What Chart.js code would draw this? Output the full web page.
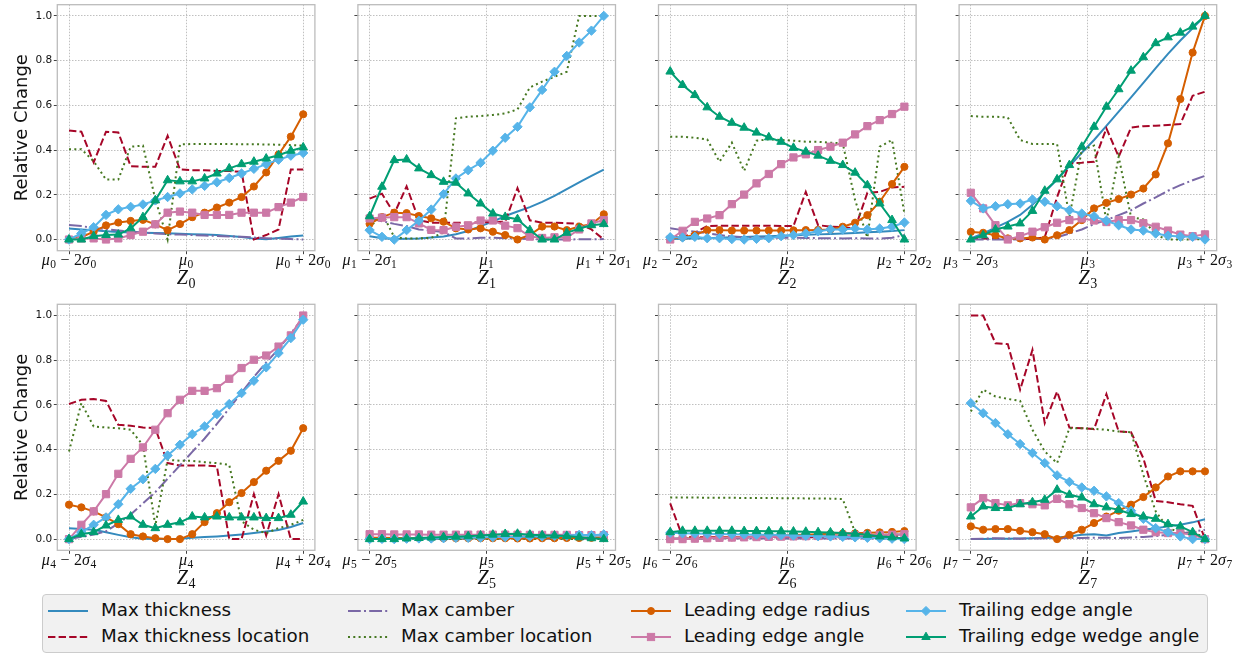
<!DOCTYPE html>
<html>
<head>
<meta charset="utf-8">
<title>Relative change of airfoil features along each latent dimension</title>
<script src="https://cdn.jsdelivr.net/npm/chart.js@4.4.1/dist/chart.umd.min.js"></script>
<style>
  html, body { margin: 0; padding: 0; background: #fff; }
  #page { position: relative; width: 1246px; height: 656px; overflow: hidden; background: #fff; }
  #page canvas { position: absolute; }
  #legend { position: absolute; left: 42px; top: 594px; width: 1166px; height: 59px; box-sizing: border-box;
            background: #f1f1f1; border: 1px solid #cccccc; border-radius: 4px; z-index: 5; }
  .lg-sample { position: absolute; }
  .lg-text { position: absolute; font-family: 'DejaVu Sans', sans-serif; font-size: 18.3px; line-height: 22px;
             color: #111; white-space: nowrap; }
</style>
</head>
<body>
<div id="page"><div id="legend"></div></div>
<script>
// Sample positions along each latent dimension, in units of sigma around the mean
const xGrid = [-2.000, -1.789, -1.579, -1.368, -1.158, -0.947, -0.737, -0.526, -0.316, -0.105,
                0.105, 0.316, 0.526, 0.737, 0.947, 1.158, 1.368, 1.579, 1.789, 2.000];
const xTickValues = [-2, 0, 2];
const yTickValues = [0, 0.2, 0.4, 0.6, 0.8, 1.0];
const yTickLabels = ['0.0', '0.2', '0.4', '0.6', '0.8', '1.0'];
const latentCount = 8;

// One row per latent dimension Z0..Z7
const maxThickness = [
  [0.049, 0.045, 0.041, 0.037, 0.034, 0.031, 0.030, 0.029, 0.028, 0.026, 0.024, 0.022, 0.020, 0.016, 0.011, 0.004, 0.001, 0.007, 0.013, 0.018],
  [0.015, 0.006, 0.002, 0.003, 0.005, 0.009, 0.014, 0.024, 0.038, 0.060, 0.080, 0.105, 0.125, 0.145, 0.168, 0.195, 0.225, 0.256, 0.285, 0.313],
  [0.002, 0.003, 0.004, 0.006, 0.008, 0.010, 0.011, 0.013, 0.015, 0.017, 0.019, 0.021, 0.023, 0.025, 0.027, 0.029, 0.032, 0.035, 0.038, 0.042],
  [0.005, 0.027, 0.053, 0.079, 0.110, 0.155, 0.212, 0.268, 0.328, 0.388, 0.445, 0.508, 0.572, 0.636, 0.700, 0.766, 0.830, 0.890, 0.945, 1.000],
  [0.049, 0.045, 0.042, 0.031, 0.019, 0.008, 0.002, 0.001, 0.001, 0.002, 0.006, 0.009, 0.012, 0.016, 0.021, 0.027, 0.034, 0.041, 0.054, 0.072],
  [0.002, 0.002, 0.002, 0.003, 0.003, 0.003, 0.004, 0.004, 0.004, 0.004, 0.005, 0.005, 0.005, 0.005, 0.006, 0.006, 0.006, 0.006, 0.007, 0.007],
  [0.001, 0.002, 0.002, 0.004, 0.005, 0.005, 0.007, 0.008, 0.009, 0.009, 0.011, 0.012, 0.012, 0.014, 0.015, 0.016, 0.016, 0.018, 0.019, 0.021],
  [0.000, 0.001, 0.002, 0.002, 0.003, 0.004, 0.005, 0.007, 0.012, 0.019, 0.022, 0.016, 0.027, 0.034, 0.042, 0.049, 0.057, 0.064, 0.075, 0.089]
];
const maxThicknessLocation = [
  [0.487, 0.482, 0.345, 0.482, 0.479, 0.328, 0.325, 0.325, 0.464, 0.313, 0.310, 0.310, 0.306, 0.306, 0.303, 0.000, 0.020, 0.045, 0.313, 0.313],
  [0.183, 0.205, 0.115, 0.238, 0.086, 0.075, 0.075, 0.075, 0.075, 0.077, 0.078, 0.080, 0.230, 0.086, 0.075, 0.075, 0.073, 0.070, 0.045, 0.000],
  [0.010, 0.012, 0.030, 0.060, 0.062, 0.062, 0.062, 0.062, 0.062, 0.060, 0.060, 0.213, 0.064, 0.058, 0.055, 0.050, 0.209, 0.213, 0.233, 0.236],
  [0.005, 0.004, 0.003, 0.003, 0.002, 0.002, 0.010, 0.190, 0.340, 0.343, 0.348, 0.497, 0.370, 0.501, 0.507, 0.509, 0.512, 0.516, 0.643, 0.661],
  [0.604, 0.623, 0.627, 0.618, 0.511, 0.507, 0.499, 0.496, 0.340, 0.329, 0.329, 0.329, 0.325, 0.000, 0.000, 0.201, 0.016, 0.201, 0.000, 0.000],
  [0.005, 0.005, 0.005, 0.005, 0.005, 0.005, 0.005, 0.005, 0.005, 0.005, 0.005, 0.005, 0.005, 0.005, 0.005, 0.005, 0.005, 0.005, 0.005, 0.005],
  [0.160, 0.010, 0.008, 0.008, 0.008, 0.008, 0.008, 0.008, 0.008, 0.008, 0.008, 0.008, 0.008, 0.008, 0.008, 0.008, 0.008, 0.008, 0.008, 0.008],
  [1.000, 1.000, 0.876, 0.872, 0.668, 0.846, 0.519, 0.660, 0.499, 0.496, 0.492, 0.648, 0.481, 0.478, 0.362, 0.171, 0.165, 0.156, 0.149, 0.000]
];
const maxCamber = [
  [0.065, 0.060, 0.052, 0.046, 0.040, 0.035, 0.031, 0.027, 0.024, 0.022, 0.020, 0.018, 0.016, 0.014, 0.012, 0.009, 0.006, 0.004, 0.002, 0.000],
  [0.095, 0.082, 0.070, 0.060, 0.045, 0.040, 0.034, 0.005, 0.005, 0.008, 0.008, 0.006, 0.005, 0.002, 0.000, 0.000, 0.000, 0.001, 0.001, 0.002],
  [0.050, 0.042, 0.035, 0.028, 0.020, 0.014, 0.010, 0.008, 0.008, 0.008, 0.008, 0.007, 0.006, 0.006, 0.005, 0.006, 0.005, 0.004, 0.008, 0.020],
  [0.000, 0.000, 0.000, 0.000, 0.001, 0.002, 0.003, 0.010, 0.027, 0.045, 0.069, 0.087, 0.109, 0.131, 0.161, 0.188, 0.218, 0.243, 0.265, 0.285],
  [0.000, 0.010, 0.020, 0.035, 0.070, 0.110, 0.160, 0.210, 0.270, 0.330, 0.390, 0.450, 0.515, 0.585, 0.655, 0.725, 0.790, 0.850, 0.920, 0.990],
  [0.002, 0.002, 0.002, 0.002, 0.002, 0.002, 0.002, 0.002, 0.002, 0.002, 0.002, 0.002, 0.002, 0.002, 0.002, 0.002, 0.002, 0.002, 0.002, 0.002],
  [0.003, 0.003, 0.003, 0.003, 0.003, 0.003, 0.003, 0.003, 0.003, 0.003, 0.003, 0.003, 0.003, 0.003, 0.003, 0.003, 0.003, 0.003, 0.003, 0.003],
  [0.000, 0.002, 0.004, 0.003, 0.002, 0.003, 0.004, 0.004, 0.005, 0.005, 0.006, 0.006, 0.005, 0.007, 0.010, 0.014, 0.019, 0.025, 0.033, 0.042]
];
const maxCamberLocation = [
  [0.404, 0.404, 0.350, 0.268, 0.268, 0.415, 0.420, 0.180, 0.000, 0.425, 0.427, 0.427, 0.427, 0.427, 0.426, 0.426, 0.425, 0.424, 0.422, 0.420],
  [0.050, 0.120, 0.010, 0.005, 0.005, 0.008, 0.030, 0.542, 0.549, 0.552, 0.557, 0.564, 0.582, 0.680, 0.706, 0.728, 0.750, 1.000, 1.000, 1.000],
  [0.460, 0.460, 0.455, 0.448, 0.348, 0.433, 0.307, 0.442, 0.448, 0.445, 0.442, 0.437, 0.437, 0.433, 0.430, 0.176, 0.009, 0.415, 0.445, 0.116],
  [0.552, 0.549, 0.549, 0.546, 0.445, 0.427, 0.427, 0.427, 0.100, 0.400, 0.420, 0.080, 0.370, 0.100, 0.090, 0.020, 0.000, 0.000, 0.000, 0.002],
  [0.392, 0.608, 0.504, 0.499, 0.496, 0.489, 0.420, 0.060, 0.355, 0.350, 0.350, 0.344, 0.340, 0.332, 0.080, 0.042, 0.027, 0.049, 0.064, 0.086],
  [0.000, 0.000, 0.000, 0.000, 0.000, 0.000, 0.000, 0.000, 0.000, 0.000, 0.000, 0.000, 0.000, 0.000, 0.000, 0.000, 0.000, 0.000, 0.000, 0.000],
  [0.186, 0.186, 0.186, 0.185, 0.185, 0.185, 0.184, 0.184, 0.184, 0.183, 0.183, 0.182, 0.182, 0.181, 0.179, 0.030, 0.020, 0.020, 0.020, 0.020],
  [0.571, 0.668, 0.638, 0.627, 0.618, 0.489, 0.392, 0.340, 0.496, 0.496, 0.493, 0.489, 0.481, 0.478, 0.288, 0.124, 0.049, 0.031, 0.027, 0.012]
];
const leadingEdgeRadius = [
  [0.000, 0.010, 0.035, 0.063, 0.076, 0.083, 0.088, 0.068, 0.042, 0.069, 0.100, 0.120, 0.143, 0.165, 0.190, 0.237, 0.300, 0.380, 0.460, 0.560],
  [0.070, 0.100, 0.120, 0.118, 0.105, 0.095, 0.080, 0.050, 0.045, 0.050, 0.035, 0.020, 0.000, 0.020, 0.058, 0.058, 0.042, 0.058, 0.068, 0.113],
  [0.005, 0.010, 0.020, 0.042, 0.042, 0.040, 0.040, 0.040, 0.040, 0.040, 0.041, 0.042, 0.043, 0.045, 0.057, 0.075, 0.109, 0.169, 0.248, 0.325],
  [0.034, 0.030, 0.019, 0.005, 0.005, 0.009, 0.000, 0.019, 0.042, 0.087, 0.139, 0.164, 0.181, 0.201, 0.228, 0.291, 0.430, 0.628, 0.836, 1.000],
  [0.154, 0.142, 0.124, 0.097, 0.067, 0.022, 0.012, 0.004, 0.000, 0.000, 0.022, 0.076, 0.116, 0.165, 0.206, 0.255, 0.306, 0.350, 0.395, 0.496],
  [0.006, 0.006, 0.005, 0.005, 0.005, 0.005, 0.004, 0.004, 0.004, 0.004, 0.004, 0.004, 0.003, 0.003, 0.004, 0.004, 0.005, 0.005, 0.006, 0.006],
  [0.000, 0.002, 0.004, 0.005, 0.007, 0.008, 0.010, 0.012, 0.014, 0.016, 0.018, 0.020, 0.022, 0.024, 0.025, 0.026, 0.028, 0.030, 0.032, 0.036],
  [0.057, 0.042, 0.045, 0.045, 0.037, 0.031, 0.022, 0.000, 0.019, 0.042, 0.072, 0.101, 0.127, 0.154, 0.188, 0.231, 0.280, 0.303, 0.303, 0.303]
];
const leadingEdgeAngle = [
  [0.000, 0.005, 0.005, 0.000, 0.005, 0.020, 0.035, 0.068, 0.120, 0.125, 0.120, 0.110, 0.110, 0.110, 0.120, 0.120, 0.120, 0.145, 0.165, 0.190],
  [0.094, 0.098, 0.100, 0.100, 0.072, 0.043, 0.042, 0.057, 0.063, 0.085, 0.085, 0.062, 0.051, 0.013, 0.007, 0.010, 0.009, 0.045, 0.072, 0.087],
  [0.000, 0.039, 0.079, 0.094, 0.109, 0.158, 0.201, 0.251, 0.293, 0.337, 0.367, 0.381, 0.400, 0.415, 0.433, 0.470, 0.507, 0.534, 0.561, 0.594],
  [0.209, 0.139, 0.064, 0.000, 0.015, 0.035, 0.055, 0.075, 0.087, 0.094, 0.085, 0.078, 0.087, 0.087, 0.073, 0.057, 0.040, 0.022, 0.015, 0.023],
  [0.000, 0.064, 0.124, 0.201, 0.292, 0.359, 0.410, 0.489, 0.563, 0.623, 0.663, 0.663, 0.675, 0.717, 0.765, 0.802, 0.821, 0.861, 0.911, 1.000],
  [0.022, 0.022, 0.021, 0.021, 0.021, 0.020, 0.020, 0.020, 0.020, 0.020, 0.020, 0.020, 0.020, 0.019, 0.019, 0.019, 0.019, 0.018, 0.018, 0.018],
  [0.000, 0.000, 0.002, 0.004, 0.006, 0.007, 0.008, 0.009, 0.010, 0.011, 0.012, 0.013, 0.014, 0.015, 0.016, 0.017, 0.018, 0.019, 0.020, 0.022],
  [0.142, 0.183, 0.161, 0.151, 0.161, 0.156, 0.151, 0.180, 0.156, 0.139, 0.116, 0.094, 0.076, 0.061, 0.042, 0.031, 0.027, 0.027, 0.019, 0.000]
];
const trailingEdgeAngle = [
  [0.000, 0.027, 0.055, 0.110, 0.135, 0.146, 0.157, 0.175, 0.190, 0.206, 0.224, 0.240, 0.256, 0.275, 0.295, 0.316, 0.337, 0.357, 0.375, 0.387],
  [0.042, 0.012, 0.000, 0.042, 0.084, 0.134, 0.203, 0.273, 0.310, 0.343, 0.397, 0.455, 0.504, 0.591, 0.669, 0.750, 0.821, 0.881, 0.934, 1.000],
  [0.010, 0.009, 0.012, 0.006, 0.006, 0.002, 0.000, 0.003, 0.006, 0.015, 0.020, 0.027, 0.037, 0.045, 0.045, 0.049, 0.045, 0.049, 0.057, 0.076],
  [0.173, 0.139, 0.149, 0.158, 0.161, 0.179, 0.169, 0.149, 0.131, 0.116, 0.104, 0.084, 0.064, 0.045, 0.040, 0.027, 0.017, 0.013, 0.012, 0.000],
  [0.000, 0.031, 0.064, 0.097, 0.156, 0.225, 0.268, 0.314, 0.374, 0.422, 0.469, 0.504, 0.559, 0.604, 0.653, 0.708, 0.768, 0.832, 0.899, 0.981],
  [0.000, 0.001, 0.000, 0.002, 0.003, 0.003, 0.004, 0.006, 0.006, 0.007, 0.009, 0.009, 0.010, 0.012, 0.012, 0.014, 0.015, 0.019, 0.017, 0.021],
  [0.028, 0.026, 0.025, 0.024, 0.023, 0.022, 0.021, 0.020, 0.019, 0.018, 0.016, 0.015, 0.013, 0.012, 0.010, 0.008, 0.006, 0.004, 0.002, 0.000],
  [0.608, 0.563, 0.519, 0.469, 0.425, 0.385, 0.340, 0.285, 0.256, 0.231, 0.216, 0.191, 0.161, 0.127, 0.091, 0.049, 0.031, 0.012, 0.000, 0.000]
];
const trailingEdgeWedgeAngle = [
  [0.000, 0.000, 0.015, 0.020, 0.022, 0.050, 0.100, 0.175, 0.265, 0.260, 0.260, 0.273, 0.295, 0.318, 0.337, 0.348, 0.362, 0.377, 0.397, 0.412],
  [0.104, 0.236, 0.355, 0.358, 0.318, 0.288, 0.258, 0.254, 0.206, 0.161, 0.116, 0.101, 0.091, 0.042, 0.000, 0.000, 0.030, 0.049, 0.064, 0.069],
  [0.751, 0.691, 0.646, 0.591, 0.549, 0.522, 0.500, 0.478, 0.457, 0.437, 0.410, 0.393, 0.375, 0.352, 0.333, 0.299, 0.243, 0.161, 0.087, 0.000],
  [0.000, 0.019, 0.045, 0.058, 0.072, 0.128, 0.218, 0.269, 0.333, 0.415, 0.504, 0.594, 0.672, 0.755, 0.815, 0.878, 0.904, 0.925, 0.952, 1.000],
  [0.000, 0.022, 0.031, 0.061, 0.086, 0.101, 0.064, 0.049, 0.064, 0.075, 0.101, 0.097, 0.101, 0.097, 0.097, 0.097, 0.094, 0.094, 0.109, 0.168],
  [0.000, 0.000, 0.000, 0.003, 0.005, 0.007, 0.009, 0.011, 0.013, 0.016, 0.020, 0.023, 0.024, 0.020, 0.017, 0.016, 0.014, 0.008, 0.004, 0.000],
  [0.031, 0.037, 0.037, 0.037, 0.037, 0.037, 0.036, 0.036, 0.035, 0.035, 0.034, 0.033, 0.031, 0.030, 0.027, 0.024, 0.019, 0.012, 0.008, 0.003],
  [0.101, 0.146, 0.139, 0.139, 0.156, 0.165, 0.176, 0.221, 0.198, 0.186, 0.156, 0.142, 0.131, 0.112, 0.101, 0.091, 0.067, 0.057, 0.031, 0.000]
];

// Line and marker styling for each feature (matplotlib "bmh" palette)
const series = [
  { name: 'Max thickness',             values: maxThickness,           color: '#348ABD', dash: [] },
  { name: 'Max thickness location',    values: maxThicknessLocation,   color: '#A60628', dash: [7.4, 3.2] },
  { name: 'Max camber',                values: maxCamber,              color: '#7A68A6', dash: [12.8, 3.2, 2, 3.2] },
  { name: 'Max camber location',       values: maxCamberLocation,      color: '#467821', dash: [2, 3.3] },
  { name: 'Leading edge radius',       values: leadingEdgeRadius,      color: '#D55E00', dash: [], marker: 'circle',   radius: 3.6 },
  { name: 'Leading edge angle',        values: leadingEdgeAngle,       color: '#CC79A7', dash: [], marker: 'rect',     radius: 5.1 },
  { name: 'Trailing edge angle',       values: trailingEdgeAngle,      color: '#56B4E9', dash: [], marker: 'rectRot',  radius: 4.7 },
  { name: 'Trailing edge wedge angle', values: trailingEdgeWedgeAngle, color: '#009E73', dash: [], marker: 'triangle', radius: 5.0 }
];

// Panel geometry (page pixels)
const FRAME_LEFT = [57.3, 357.9, 658.5, 959.1];
const FRAME_TOP = [4.7, 304.3];
const FRAME_W = 257.6, FRAME_H = 246;
const TICK = 3.5;
const CANVAS_W = 362, CANVAS_H = 300;
const GRID_COLOR = '#b0b0b0';
const TEXT_COLOR = '#111111';

const page = document.getElementById('page');

function drawRuns(ctx, runs, cx, baseline) {
  let total = 0;
  for (const r of runs) {
    ctx.font = r.f;
    r.w = ctx.measureText(r.t).width;
    total += (r.pl || 0) + r.w + (r.pr || 0);
  }
  let x = cx - total / 2;
  for (const r of runs) {
    x += r.pl || 0;
    ctx.font = r.f;
    ctx.fillText(r.t, x, baseline + (r.dy || 0));
    x += r.w + (r.pr || 0);
  }
}

const MATH_IT = 'italic 16px "Liberation Serif"';
const MATH_UP = '16px "Liberation Serif"';
const MATH_SUB = '11.5px "Liberation Serif"';

function tickRuns(k, kind) {
  const s = String(k);
  const mu = [{ t: 'μ', f: MATH_IT }, { t: s, f: MATH_SUB, dy: 3, pl: 0.5 }];
  if (kind === 0) return mu;
  const op = kind < 0 ? '−' : '+';
  return mu.concat([
    { t: op, f: MATH_UP, pl: 4.5, pr: 4.5 },
    { t: '2', f: MATH_UP },
    { t: 'σ', f: MATH_IT },
    { t: s, f: MATH_SUB, dy: 3, pl: 0.5 }
  ]);
}

function makePanel(k) {
  const col = k % 4, row = Math.floor(k / 4);
  const fl = FRAME_LEFT[col], ft = FRAME_TOP[row];
  const cl = Math.floor(fl) - 57, ct = Math.floor(ft) - 4;
  const yAxisWidth = fl - cl - 1;
  const canvas = document.createElement('canvas');
  canvas.width = CANVAS_W; canvas.height = CANVAS_H;
  canvas.style.left = cl + 'px'; canvas.style.top = ct + 'px';
  canvas.style.width = CANVAS_W + 'px'; canvas.style.height = CANVAS_H + 'px';
  page.appendChild(canvas);

  const panelDecor = {
    id: 'panelDecor',
    afterDatasetsDraw(chart) {
      const a = chart.chartArea, ctx = chart.ctx;
      ctx.save();
      ctx.strokeStyle = '#bcbcbc';
      ctx.lineWidth = 1.3;
      ctx.strokeRect(a.left, a.top, a.right - a.left, a.bottom - a.top);
      ctx.restore();
    },
    afterDraw(chart) {
      const a = chart.chartArea, ctx = chart.ctx, xs = chart.scales.x;
      ctx.save();
      ctx.fillStyle = TEXT_COLOR;
      ctx.textAlign = 'left';
      ctx.textBaseline = 'alphabetic';
      xTickValues.forEach(v => {
        drawRuns(ctx, tickRuns(k, Math.sign(v)), xs.getPixelForValue(v), a.bottom + 14.5);
      });
      drawRuns(ctx, [{ t: 'Z', f: 'italic 20px "Liberation Serif"' }, { t: String(k), f: '14px "Liberation Serif"', dy: 4, pl: 0.5 }],
               (a.left + a.right) / 2, a.bottom + 33.5);
      if (col === 0) {
        ctx.translate(26.5 - cl, (a.top + a.bottom) / 2);
        ctx.rotate(-Math.PI / 2);
        ctx.textAlign = 'center';
        ctx.font = '18px "DejaVu Sans"';
        ctx.fillText('Relative Change', 0, 0);
      }
      ctx.restore();
    }
  };

  const gridOpts = { color: GRID_COLOR, lineWidth: 0.8, tickLength: TICK, tickColor: '#444', tickWidth: 1, tickBorderDash: [] };
  const clearPadding = (s) => { s.paddingLeft = 0; s.paddingRight = 0; s.paddingTop = 0; s.paddingBottom = 0; };

  new Chart(canvas, {
    type: 'line',
    data: {
      datasets: series.map((s, j) => ({
        label: s.name,
        data: xGrid.map((x, i) => ({ x: x, y: s.values[k][i] })),
        borderColor: s.color,
        backgroundColor: s.color,
        borderWidth: 2,
        borderDash: s.dash,
        pointStyle: s.marker || 'circle',
        pointRadius: s.marker ? s.radius : 0,
        pointBorderWidth: 1,
        pointBorderColor: s.color,
        pointBackgroundColor: s.color,
        tension: 0,
        fill: false,
        order: series.length - 1 - j
      }))
    },
    options: {
      responsive: false,
      animation: false,
      devicePixelRatio: 1,
      events: [],
      layout: {
        autoPadding: false,
        padding: {
          left: 1,
          top: ft - ct,
          right: CANVAS_W - (fl - cl) - FRAME_W,
          bottom: CANVAS_H - (ft - ct) - FRAME_H - TICK
        }
      },
      plugins: { legend: { display: false }, tooltip: { enabled: false } },
      scales: {
        x: {
          type: 'linear', min: -2.2, max: 2.2,
          afterBuildTicks: s => { s.ticks = xTickValues.map(v => ({ value: v })); },
          afterFit: s => { s.height = TICK; clearPadding(s); },
          ticks: { display: false },
          grid: gridOpts,
          border: { display: false, dash: [1.5, 1.5] }
        },
        y: {
          type: 'linear', min: -0.05, max: 1.05,
          afterBuildTicks: s => { s.ticks = yTickValues.map(v => ({ value: v })); },
          afterFit: s => { s.width = yAxisWidth; clearPadding(s); },
          ticks: {
            display: col === 0,
            autoSkip: false,
            font: { family: 'DejaVu Sans', size: 10.5 },
            color: TEXT_COLOR,
            padding: 1.5,
            callback: (v) => yTickLabels[yTickValues.indexOf(v)] ?? v.toFixed(1)
          },
          grid: gridOpts,
          border: { display: false, dash: [1.5, 1.5] }
        }
      }
    },
    plugins: [panelDecor]
  });
}

for (let k = 0; k < latentCount; k++) makePanel(k);

// Legend: two rows, four columns, same order as the series list (column-major)
const legend = document.getElementById('legend');
const LEGEND_TEXT_X = [100, 400, 683, 958];
const LEGEND_ROW_Y = [610, 636];
const LEGEND_LEFT = 42, LEGEND_TOP = 594;

function markerSvg(s) {
  const c = s.color;
  switch (s.marker) {
    case 'circle':   return `<circle cx="20" cy="7" r="3.5" fill="${c}" stroke="${c}" stroke-width="1"/>`;
    case 'rect':     return `<rect x="16.4" y="3.4" width="7.2" height="7.2" fill="${c}" stroke="${c}" stroke-width="1"/>`;
    case 'rectRot':  return `<polygon points="20,2.4 24.6,7 20,11.6 15.4,7" fill="${c}" stroke="${c}" stroke-width="1"/>`;
    case 'triangle': return `<polygon points="20,2.2 24.2,9.5 15.8,9.5" fill="${c}" stroke="${c}" stroke-width="1"/>`;
    default: return '';
  }
}

series.forEach((s, j) => {
  const col = Math.floor(j / 2), row = j % 2;
  const tx = LEGEND_TEXT_X[col] - LEGEND_LEFT;
  const cy = LEGEND_ROW_Y[row] - LEGEND_TOP;
  const sample = document.createElement('div');
  sample.className = 'lg-sample';
  sample.style.left = (tx - 53) + 'px';
  sample.style.top = (cy - 7) + 'px';
  sample.innerHTML = `<svg width="40" height="14" xmlns="http://www.w3.org/2000/svg">
    <line x1="0" y1="7" x2="40" y2="7" stroke="${s.color}" stroke-width="2" stroke-dasharray="${s.dash.length ? s.dash.join(' ') : 'none'}"/>
    ${markerSvg(s)}</svg>`;
  legend.appendChild(sample);
  const text = document.createElement('div');
  text.className = 'lg-text';
  text.style.left = tx + 'px';
  text.style.top = (cy - 12) + 'px';
  text.textContent = s.name;
  legend.appendChild(text);
});
</script>
</body>
</html>
